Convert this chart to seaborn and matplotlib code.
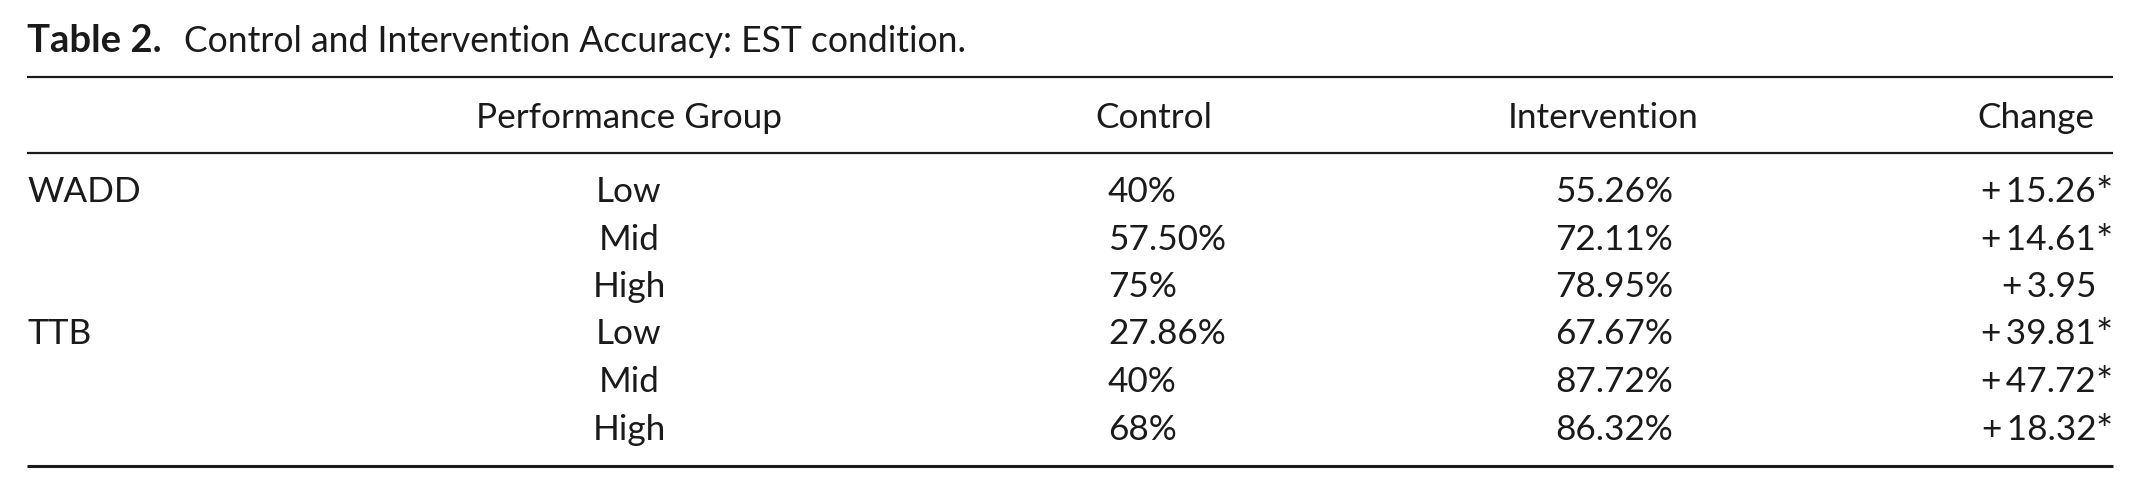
import matplotlib
matplotlib.use("Agg")
import matplotlib.pyplot as plt
import seaborn as sns

sns.set_theme(style="white")
plt.rcParams['font.family'] = ['Lato', 'DejaVu Sans']

# ---- data ----
title_bold = "Table 2."
title_rest = "Control and Intervention Accuracy: EST condition."
headers = ["Performance Group", "Control", "Intervention", "Change"]
strategies = ["WADD", "", "", "TTB", "", ""]
groups = ["Low", "Mid", "High", "Low", "Mid", "High"]
control = ["40%", "57.50%", "75%", "27.86%", "40%", "68%"]
intervention = ["55.26%", "72.11%", "78.95%", "67.67%", "87.72%", "86.32%"]
change = ["15.26", "14.61", "3.95", "39.81", "47.72", "18.32"]
significant = [True, True, False, True, True, True]

W, H = 2139, 493
fig = plt.figure(figsize=(W / 100, H / 100), dpi=100)
ax = fig.add_axes([0, 0, 1, 1])
ax.set_xlim(0, W)
ax.set_ylim(H, 0)
ax.axis("off")

fs = 25.3
col = "#1a1a1a"

# title
t = ax.text(27, 52, title_bold, fontsize=27.5, fontweight="bold", color=col,
            ha="left", va="baseline")
fig.canvas.draw()
bb = t.get_window_extent(fig.canvas.get_renderer())
x_end = ax.transData.inverted().transform((bb.x1, bb.y0))[0]
ax.text(x_end + 22, 52, title_rest, fontsize=fs + 0.3, color=col, ha="left", va="baseline")

# rules
ax.hlines([77, 153], 27, 2113, color=col, linewidth=1.6)
ax.hlines([466], 27, 2113, color=col, linewidth=2.2)

# header
hy = 128
ax.text(629, hy, headers[0], fontsize=fs, color=col, ha="center", va="baseline")
ax.text(1154, hy, headers[1], fontsize=fs, color=col, ha="center", va="baseline")
ax.text(1603, hy, headers[2], fontsize=fs, color=col, ha="center", va="baseline")
ax.text(2094, hy, headers[3], fontsize=fs, color=col, ha="right", va="baseline")

# body
y0, dy = 202, 47.5
for i in range(len(groups)):
    y = y0 + i * dy
    if strategies[i]:
        ax.text(27, y, strategies[i], fontsize=fs, color=col, ha="left", va="baseline")
    ax.text(629, y, groups[i], fontsize=fs, color=col, ha="center", va="baseline")
    ax.text(1108, y, control[i], fontsize=fs, color=col, ha="left", va="baseline")
    ax.text(1555, y, intervention[i], fontsize=fs, color=col, ha="left", va="baseline")
    ax.text(2096, y, "+\u2009" + change[i], fontsize=fs, color=col, ha="right", va="baseline")
    if significant[i]:
        ax.text(2096, y + 4, "*", fontsize=fs + 4, color=col, ha="left", va="baseline")

fig.savefig("out.png", dpi=100, facecolor="white")
